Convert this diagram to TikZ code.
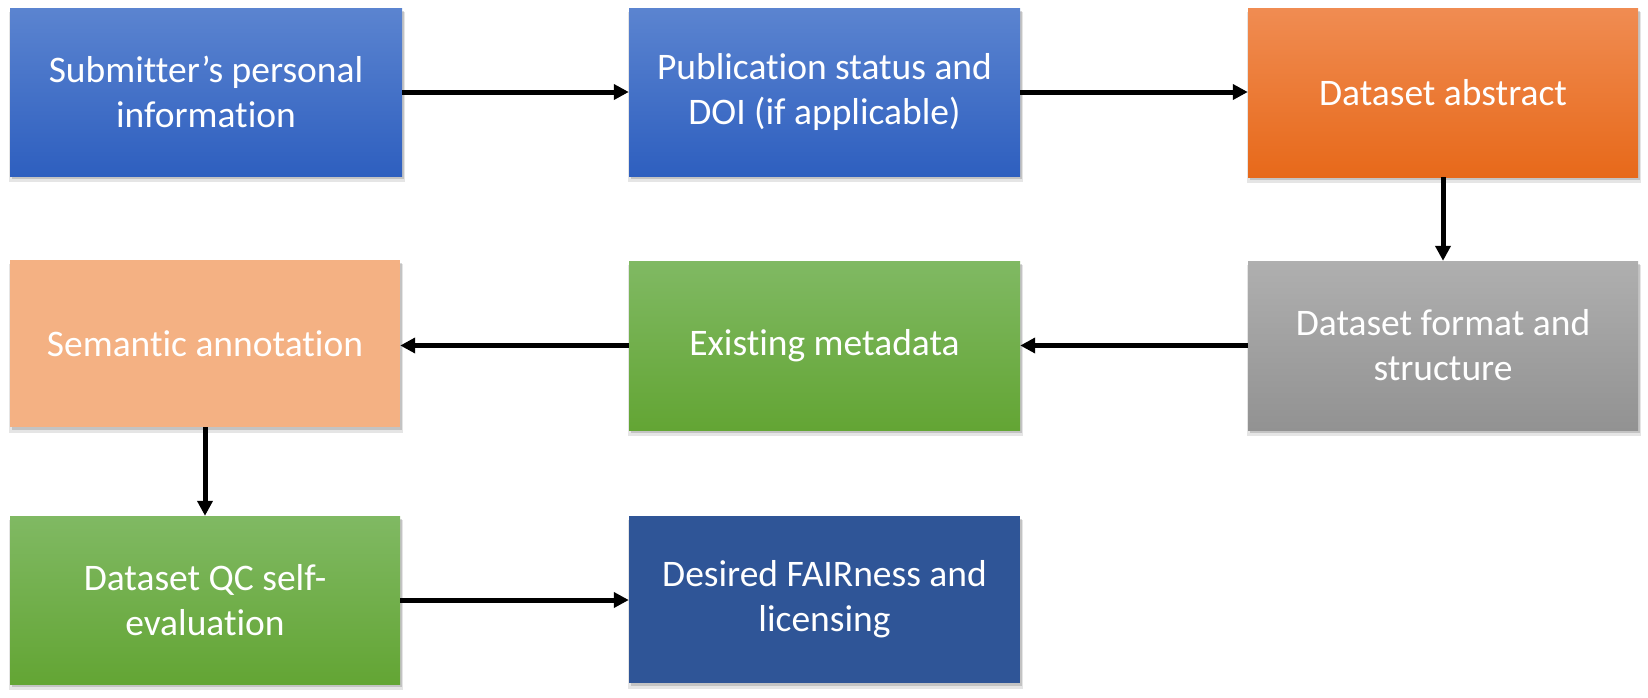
\documentclass[tikz,border=0pt]{standalone}
\usepackage{fontspec}
\setmainfont{Carlito}[RawFeature={-liga;-clig;-calt;-dlig}]
\usetikzlibrary{arrows.meta,shadows}
\definecolor{bluetop}{HTML}{5B84D0}
\definecolor{bluebot}{HTML}{2E5FBF}
\definecolor{orangetop}{HTML}{F08C52}
\definecolor{orangebot}{HTML}{E7691A}
\definecolor{graytop}{HTML}{AFAFAF}
\definecolor{graybot}{HTML}{929292}
\definecolor{greentop}{HTML}{80B963}
\definecolor{greenbot}{HTML}{63A534}
\definecolor{peach}{HTML}{F4B183}
\definecolor{darkblue}{HTML}{2F5597}
\tikzset{
  box/.style={rectangle, inner sep=0pt, align=center, text=white,
    minimum width=391pt, minimum height=168pt,
    font=\fontsize{37.5}{45}\selectfont,
    general shadow={fill=black, opacity=0.10, shadow xshift=1pt, shadow yshift=-5pt, shadow scale=1.01},
    general shadow={fill=black, opacity=0.15, shadow xshift=1.5pt, shadow yshift=-2.5pt}},
  bluebox/.style={box, top color=bluetop, bottom color=bluebot},
  orangebox/.style={box, top color=orangetop, bottom color=orangebot},
  graybox/.style={box, top color=graytop, bottom color=graybot},
  greenbox/.style={box, top color=greentop, bottom color=greenbot},
  peachbox/.style={box, fill=peach},
  dbluebox/.style={box, fill=darkblue},
  conn/.style={line width=5pt, -{Triangle[length=15pt,width=15pt]}}
}
\begin{document}
\begin{tikzpicture}[x=1pt,y=-1pt]
\useasboundingbox (0,0) rectangle (1648,697);
\node[bluebox, minimum width=392pt] (b1) at (206,92) {Submitter’s personal\\information};
\node[bluebox] (b2) at (824.5,92) {Publication status and\\DOI (if applicable)};
\node[orangebox, minimum width=390pt, minimum height=169pt] (b3) at (1443,92.5) {Dataset abstract};
\node[graybox, minimum width=390pt, minimum height=169pt] (b4) at (1443,345.5) {Dataset format and\\structure};
\node[greenbox, minimum height=169pt] (b5) at (824.5,345.5) {Existing metadata};
\node[peachbox, minimum width=390pt, minimum height=167pt] (b6) at (205,343.5) {Semantic annotation};
\node[greenbox, minimum width=390pt] (b7) at (205,600) {Dataset QC self-\\evaluation};
\node[dbluebox, minimum height=167pt] (b8) at (824.5,599.5) {Desired FAIRness and\\licensing};
\draw[conn] (b1) -- (b2);
\draw[conn] (b2.east) -- (b2.east -| b3.west);
\draw[conn] (b3) -- (b4);
\draw[conn] (b4.west) -- (b5.east);
\draw[conn] (b5.west) -- (b5.west -| b6.east);
\draw[conn] (b6) -- (b7);
\draw[conn] (b7.east) -- (b7.east -| b8.west);
\end{tikzpicture}
\end{document}
